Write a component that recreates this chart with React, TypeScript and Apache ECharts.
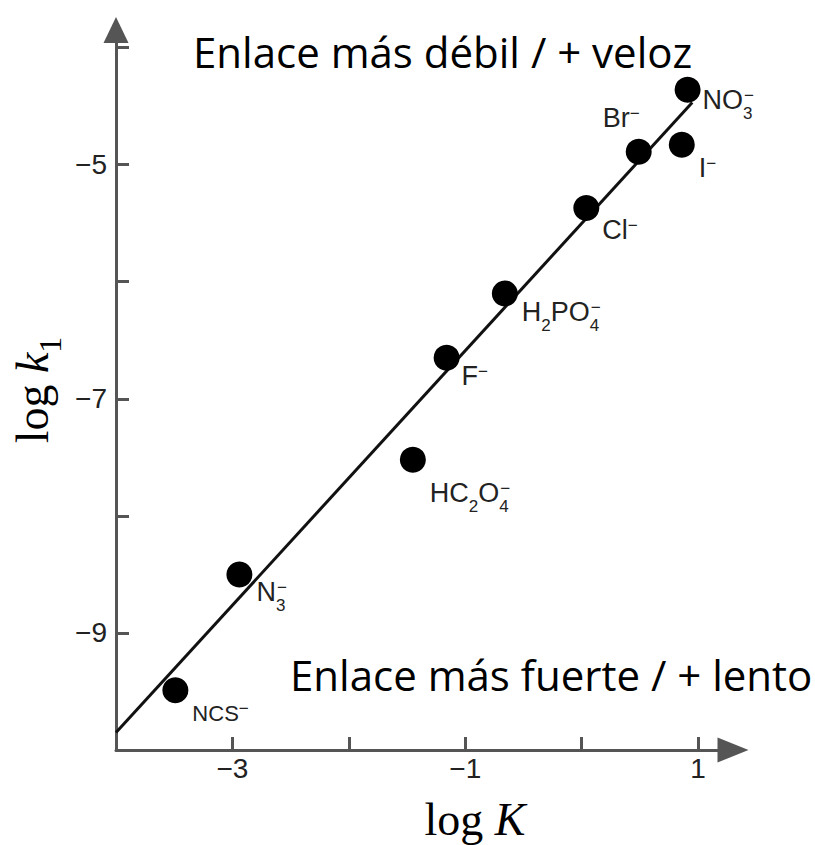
import React, { useEffect, useRef } from 'react';
import * as echarts from 'echarts';

// ---- data ----
const ions = ['NCS', 'N3', 'HC2O4', 'F', 'H2PO4', 'Cl', 'Br', 'I', 'NO3'];
const logK = [-3.49, -2.94, -1.45, -1.16, -0.66, 0.04, 0.49, 0.86, 0.91];
const logk1 = [-9.49, -8.5, -7.52, -6.65, -6.1, -5.37, -4.89, -4.83, -4.36];
const fitLogK = [-4, 0.95];
const fitLogk1 = [-9.85, -4.47];
const xTicks = [-3, -2, -1, 0, 1];
const xTickLabels = [-3, -1, 1];
const yTicks = [-9, -8, -7, -6, -5, -4];
const yTickLabels = [-9, -7, -5];
const topNote = 'Enlace más débil / + veloz';
const bottomNote = 'Enlace más fuerte / + lento';

// rich-text formulas of the ions
const ionText: Record<string, string> = {
  NCS: '{n|NCS}{p|−}',
  N3: '{m|N}{bs|3}{p|−}',
  HC2O4: '{m|HC}{b|2}{m|O}{bs|4}{p|−}',
  F: '{m|F}{p|−}',
  H2PO4: '{m|H}{b|2}{m|PO}{bs|4}{p|−}',
  Cl: '{m|Cl}{p|−}',
  Br: '{m|Br}{p|−}',
  I: '{m|I}{p|−}',
  NO3: '{m|NO}{bs|3}{p|−}',
};
// label placement (style only): [dx, dy, align]
const labelPlace: Record<string, [number, number, 'left' | 'right']> = {
  NCS: [17, 23, 'left'],
  N3: [17, 18, 'left'],
  HC2O4: [17, 33, 'left'],
  F: [15, 18, 'left'],
  H2PO4: [17, 19, 'left'],
  Cl: [16, 22, 'left'],
  Br: [1, -34, 'right'],
  I: [17, 23, 'left'],
  NO3: [15, 10, 'left'],
};

const FONT_LABEL = "'Liberation Sans', Arial, sans-serif";
const FONT_NOTE = "'Open Sans', sans-serif";
const FONT_MATH = "'Liberation Serif', 'DejaVu Serif', serif";
const AXIS_COLOR = '#555';
const TEXT_COLOR = '#222';

const fmtNum = (v: number) => String(v).replace('-', '−');

function buildOption(): any {
  const scatterData = ions.map((ion, i) => {
    const [dx, dy, align] = labelPlace[ion];
    return {
      name: ion,
      value: [logK[i], logk1[i]],
      label: { align, offset: [dx, dy] },
    };
  });
  const lineData = fitLogK.map((x, i) => [x, fitLogk1[i]]);

  return {
    animation: false,
    backgroundColor: '#fff',
    grid: { left: 116, right: 82, top: 30, bottom: 95, containLabel: false },
    xAxis: {
      type: 'value',
      min: -4,
      max: 1.3,
      splitLine: { show: false },
      axisLine: {
        show: true,
        onZero: false,
        symbol: ['none', 'triangle'],
        symbolSize: [25, 31],
        lineStyle: { color: AXIS_COLOR, width: 3 },
      },
      axisTick: {
        show: true,
        inside: true,
        length: 13,
        customValues: xTicks,
        lineStyle: { color: AXIS_COLOR, width: 3 },
      },
      axisLabel: {
        customValues: xTickLabels,
        formatter: (v: number) => fmtNum(v),
        fontSize: 28,
        fontFamily: FONT_LABEL,
        color: TEXT_COLOR,
        margin: 4,
      },
    },
    yAxis: {
      type: 'value',
      min: -10,
      max: -3.85,
      splitLine: { show: false },
      axisLine: {
        show: true,
        onZero: false,
        symbol: ['none', 'triangle'],
        symbolSize: [25, 26],
        lineStyle: { color: AXIS_COLOR, width: 3 },
      },
      axisTick: {
        show: true,
        inside: true,
        length: 13,
        customValues: yTicks,
        lineStyle: { color: AXIS_COLOR, width: 3 },
      },
      axisLabel: {
        customValues: yTickLabels,
        formatter: (v: number) => fmtNum(v),
        fontSize: 28,
        fontFamily: FONT_LABEL,
        color: TEXT_COLOR,
        margin: 9,
      },
    },
    series: [
      {
        type: 'line',
        data: lineData,
        symbol: 'none',
        silent: true,
        z: 2,
        lineStyle: { color: '#111', width: 3 },
      },
      {
        type: 'scatter',
        data: scatterData,
        symbol: 'circle',
        symbolSize: 26,
        z: 3,
        itemStyle: { color: '#000', opacity: 1 },
        label: {
          show: true,
          position: 'inside',
          verticalAlign: 'middle',
          formatter: (p: any) => ionText[p.name],
          color: TEXT_COLOR,
          fontFamily: FONT_LABEL,
          rich: {
            m: { fontSize: 27, lineHeight: 44, fontFamily: FONT_LABEL, color: TEXT_COLOR },
            n: { fontSize: 22, lineHeight: 44, fontFamily: FONT_LABEL, color: TEXT_COLOR },
            b: {
              fontSize: 17, lineHeight: 17, fontFamily: FONT_LABEL, color: TEXT_COLOR,
              verticalAlign: 'bottom',
            },
            bs: {
              fontSize: 17, lineHeight: 17, fontFamily: FONT_LABEL, color: TEXT_COLOR,
              verticalAlign: 'bottom', width: 1,
            },
            p: {
              fontSize: 17, lineHeight: 17, fontFamily: FONT_LABEL, color: TEXT_COLOR,
              verticalAlign: 'top', padding: [9, 0, 0, 0],
            },
          },
        },
      },
    ],
    graphic: [
      {
        type: 'text',
        x: 193,
        y: 51,
        style: {
          text: topNote,
          fontFamily: FONT_NOTE,
          fontSize: 42,
          fill: '#000',
          align: 'left',
          verticalAlign: 'middle',
        },
      },
      {
        type: 'text',
        x: 290,
        y: 674,
        style: {
          text: bottomNote,
          fontFamily: FONT_NOTE,
          fontSize: 42,
          fill: '#000',
          align: 'left',
          verticalAlign: 'middle',
        },
      },
      {
        type: 'text',
        x: 475,
        y: 819,
        style: {
          text: '{a|log }{b|K}',
          align: 'center',
          verticalAlign: 'middle',
          rich: {
            a: { fontFamily: FONT_MATH, fontSize: 46, fill: '#000' },
            b: { fontFamily: FONT_MATH, fontSize: 46, fontStyle: 'italic', fill: '#000' },
          },
        },
      },
      {
        type: 'text',
        x: 32,
        y: 390,
        rotation: Math.PI / 2,
        style: {
          text: '{a|log }{b|k}{s|1}',
          align: 'center',
          verticalAlign: 'middle',
          rich: {
            a: { fontFamily: FONT_MATH, fontSize: 46, lineHeight: 68, fill: '#000' },
            b: { fontFamily: FONT_MATH, fontSize: 46, lineHeight: 68, fontStyle: 'italic', fill: '#000' },
            s: { fontFamily: FONT_MATH, fontSize: 32, lineHeight: 32, verticalAlign: 'bottom', fill: '#000' },
          },
        },
      },
    ],
  };
}

export default function App() {
  const ref = useRef<HTMLDivElement>(null);
  useEffect(() => {
    if (!ref.current) return;
    const chart = echarts.init(ref.current, null, { renderer: 'svg' });
    chart.setOption(buildOption());
    return () => chart.dispose();
  }, []);
  return (
    <div
      ref={ref}
      style={{ position: 'fixed', left: 0, top: 0, width: 815, height: 845, background: '#fff' }}
    />
  );
}
